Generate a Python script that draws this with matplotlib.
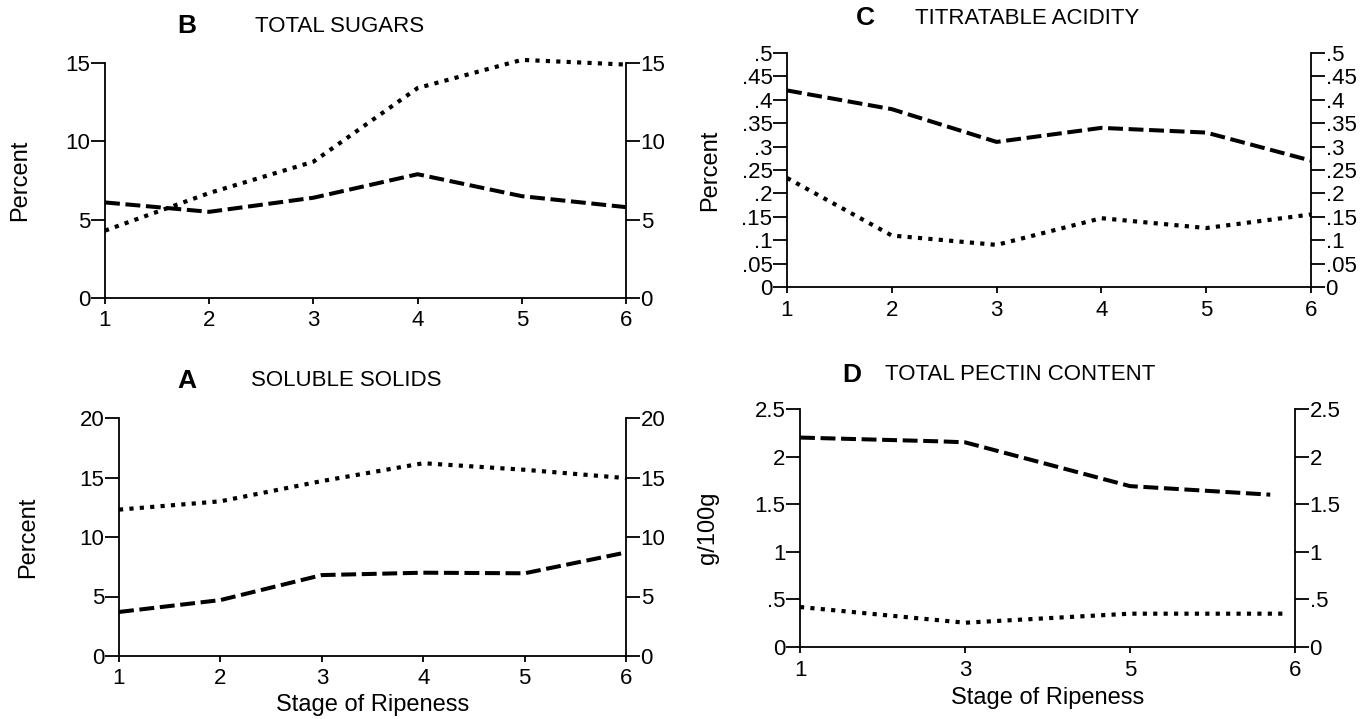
import matplotlib
matplotlib.use("Agg")
import matplotlib.pyplot as plt
from matplotlib import ticker

plt.rcParams['font.family'] = ['Liberation Sans', 'DejaVu Sans']

# ---- data ----
stages = [1, 2, 3, 4, 5, 6]

# B total sugars (percent)
sugar_dot = [4.3, 6.7, 8.7, 13.4, 15.2, 14.9]
sugar_dash = [6.1, 5.5, 6.4, 7.9, 6.5, 5.8]

# C titratable acidity (percent)
acid_dash = [0.42, 0.38, 0.31, 0.34, 0.33, 0.27]
acid_dot = [0.233, 0.11, 0.09, 0.147, 0.126, 0.155]

# A soluble solids (percent)
solids_dot = [12.3, 13.0, 14.7, 16.2, 15.65, 14.95]
solids_dash = [3.7, 4.7, 6.8, 7.0, 6.95, 8.7]

# D total pectin (g/100g), x on an evenly spaced stage axis 1,3,5,6
pectin_ticklabels = ["1", "3", "5", "6"]
pectin_dash_x = [0, 0.85, 1, 2, 2.85]
pectin_dash = [2.20, 2.16, 2.15, 1.69, 1.60]
pectin_dot_x = [0, 1, 2, 2.93]
pectin_dot = [0.42, 0.255, 0.35, 0.35]

ticks_B = [0, 5, 10, 15]
ticks_C = [0, .05, .1, .15, .2, .25, .3, .35, .4, .45, .5]
ticks_A = [0, 5, 10, 15, 20]
ticks_D = [0, .5, 1, 1.5, 2, 2.5]

W, H = 1361, 719
fig = plt.figure(figsize=(W / 100, H / 100), dpi=100)

DASH = (0, (3.7, 1.4))
DOT = (0, (1, 1.5))
TXT = 16


def fmt(v, pos=None):
    s = f"{v:g}"
    if s.startswith("0."):
        s = s[1:]
    return s


def px_axes(l, r, t, b):
    ax = fig.add_axes([l / W, (H - b) / H, (r - l) / W, (b - t) / H])
    ax.box_px = (l, r, t, b)
    return ax


def style(ax, yticks, xlim, xticks, xticklabels):
    ax.set_ylim(yticks[0], yticks[-1])
    ax.set_xlim(*xlim)
    ax.set_yticks(yticks)
    ax.yaxis.set_major_formatter(ticker.FuncFormatter(fmt))
    ax.set_xticks(xticks)
    ax.set_xticklabels(xticklabels)
    ax.spines['top'].set_visible(False)
    ax.spines['right'].set_visible(False)
    for s in ['left', 'bottom']:
        ax.spines[s].set_linewidth(1.3)
    ax.tick_params(axis='y', direction='out', length=10, width=1.3, pad=0.5, labelsize=TXT)
    ax.tick_params(axis='x', direction='out', length=4, width=1.3, pad=5, labelsize=TXT)
    tw = ax.twinx()
    tw.set_ylim(yticks[0], yticks[-1])
    tw.set_yticks(yticks)
    tw.yaxis.set_major_formatter(ticker.FuncFormatter(fmt))
    for s in ['top', 'left', 'bottom']:
        tw.spines[s].set_visible(False)
    tw.spines['right'].set_linewidth(1.3)
    tw.tick_params(axis='y', direction='out', length=10, width=1.3, pad=0.5, labelsize=TXT)
    return tw


def ylab(ax, text, x):
    l, r, t, b = ax.box_px
    ax.set_ylabel(text, fontsize=17, va='center')
    ax.yaxis.set_label_coords((x - l) / (r - l), 0.5)


def xlab(ax, text, y):
    l, r, t, b = ax.box_px
    ax.set_xlabel(text, fontsize=17, va='center')
    ax.xaxis.set_label_coords(0.5, (b - y) / (b - t))


def title(x_letter, x_text, y, letter, text):
    fig.text(x_letter / W, 1 - y / H, letter, fontsize=19, fontweight='bold',
             ha='center', va='center')
    fig.text(x_text / W, 1 - y / H, text, fontsize=16, ha='left', va='center')


# B
axB = px_axes(105, 626, 63, 298)
axB.plot(stages, sugar_dot, color='black', lw=3, ls=DOT, clip_on=False)
axB.plot(stages, sugar_dash, color='black', lw=2.9, ls=DASH)
style(axB, ticks_B, (1, 6), stages, [str(s) for s in stages])
ylab(axB, "Percent", 20)
title(187, 255, 26, "B", "TOTAL SUGARS")

# C
axC = px_axes(787, 1311, 53, 287)
axC.plot(stages, acid_dash, color='black', lw=2.9, ls=DASH)
axC.plot(stages, acid_dot, color='black', lw=3, ls=DOT)
style(axC, ticks_C, (1, 6), stages, [str(s) for s in stages])
ylab(axC, "Percent", 710)
title(865, 915, 18, "C", "TITRATABLE ACIDITY")

# A
axA = px_axes(119, 626, 418, 656)
axA.plot(stages, solids_dot, color='black', lw=3, ls=DOT)
axA.plot(stages, solids_dash, color='black', lw=2.9, ls=DASH)
style(axA, ticks_A, (1, 6), stages, [str(s) for s in stages])
ylab(axA, "Percent", 28)
xlab(axA, "Stage of Ripeness", 705)
title(187, 251, 381, "A", "SOLUBLE SOLIDS")

# D
axD = px_axes(800, 1295, 409, 647)
axD.plot(pectin_dash_x, pectin_dash, color='black', lw=2.9, ls=DASH)
axD.plot(pectin_dot_x, pectin_dot, color='black', lw=3, ls=DOT)
style(axD, ticks_D, (0, 3), [0, 1, 2, 3], pectin_ticklabels)
ylab(axD, "g/100g", 708)
xlab(axD, "Stage of Ripeness", 698)
title(852, 885, 375, "D", "TOTAL PECTIN CONTENT")

fig.savefig("out.png", dpi=100)
